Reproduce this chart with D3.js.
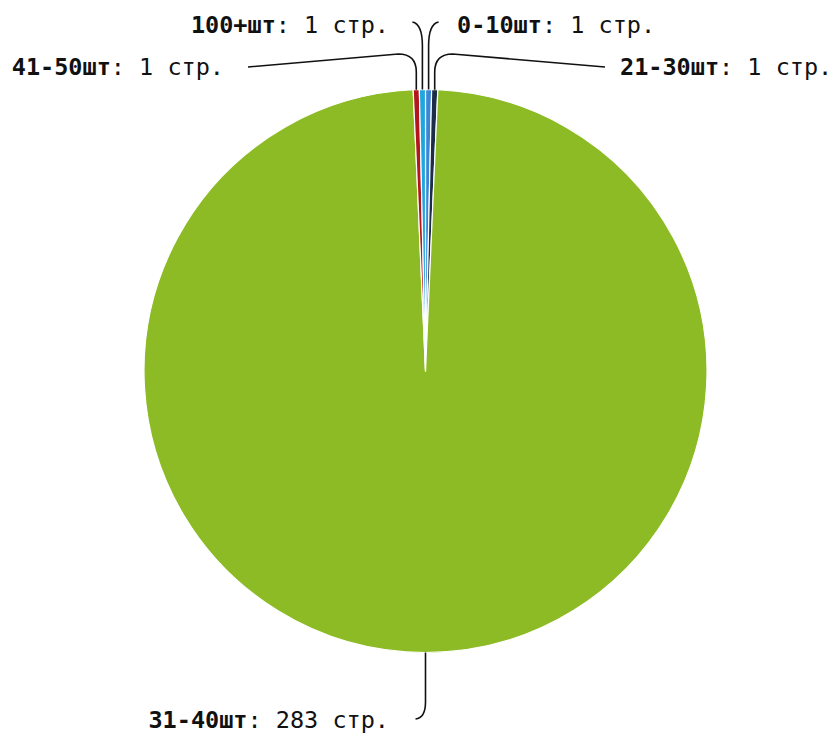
<!DOCTYPE html>
<html><head><meta charset="utf-8">
<script src="https://cdn.jsdelivr.net/npm/d3@7"></script>
<style>body{margin:0;background:#fff}</style>
</head><body>
<svg id="c" width="834" height="736"></svg>
<script>
const categories = ["0-10шт", "21-30шт", "31-40шт", "41-50шт", "100+шт"];
const values = [1, 1, 283, 1, 1];
const unit = "стр.";
const colors = ["#3b87d6", "#1b2d48", "#8cbb25", "#b3161d", "#1ea6de"];

// layout for labels: text anchor point and leader line shape
const labelLayout = [
  {tx:457, ty:26, anchor:"start", path:(sx,sy)=>`M${sx},${sy}L${sx},46Q${sx},24 ${sx+10},22`},
  {tx:620, ty:68, anchor:"start", path:(sx,sy)=>`M${sx},${sy}L${sx},72Q${sx},54 ${sx+18},54L605,67`},
  {tx:389, ty:721, anchor:"end", path:(sx,sy)=>`M${sx},${sy}L${sx},702Q${sx},718 ${sx-10},719`},
  {tx:224, ty:68, anchor:"end", path:(sx,sy)=>`M${sx},${sy}L${sx},72Q${sx},54 ${sx-18},54L248,67`},
  {tx:389, ty:26, anchor:"end", path:(sx,sy)=>`M${sx},${sy}L${sx},46Q${sx},24 ${sx-10},22`}
];

const cx = 425.5, cy = 371, r = 281.5;
const svg = d3.select("#c");
const data = categories.map((c,i)=>({cat:c, value:values[i], color:colors[i], lay:labelLayout[i]}));
const pie = d3.pie().value(d=>d.value).sort(null);
const arcs = pie(data);
const arc = d3.arc().innerRadius(0).outerRadius(r);

const g = svg.append("g").attr("transform",`translate(${cx},${cy})`);
g.selectAll("path").data(arcs).join("path")
  .attr("d", arc)
  .attr("fill", d=>d.data.color)
  .attr("stroke", "#fff")
  .attr("stroke-width", 1.2)
  .attr("stroke-linejoin","round");

arcs.forEach(a=>{
  const mid = (a.startAngle + a.endAngle)/2;
  const sx = +(cx + r*Math.sin(mid)).toFixed(1);
  const sy = +(cy - r*Math.cos(mid)).toFixed(1);
  const L = a.data.lay;
  svg.append("path").attr("d", L.path(sx,sy))
    .attr("fill","none").attr("stroke","#111").attr("stroke-width",1.6);
  const t = svg.append("text")
    .attr("x", L.tx).attr("y", L.ty)
    .attr("text-anchor", L.anchor)
    .attr("dominant-baseline","middle")
    .attr("font-family","'DejaVu Sans Mono', monospace")
    .attr("font-size", 23.5)
    .attr("fill","#111");
  t.append("tspan").attr("font-weight","bold").text(a.data.cat);
  t.append("tspan").text(": " + a.data.value + " " + unit);
});
</script>
</body></html>
